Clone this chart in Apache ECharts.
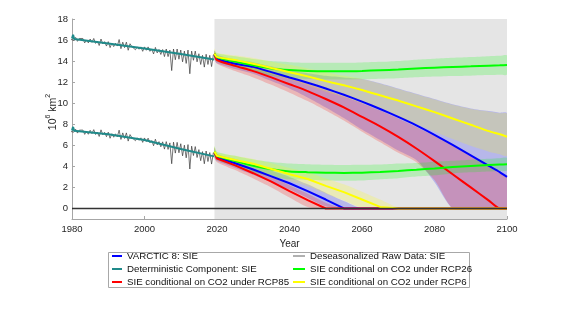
<!DOCTYPE html>
<html><head><meta charset="utf-8">
<script src="https://cdn.jsdelivr.net/npm/echarts@6/dist/echarts.min.js"></script>
<style>html,body{margin:0;padding:0;background:#fff}#c{width:561px;height:316px}</style>
</head><body><div id="c"></div>
<script>
// ---------- data ----------
const xTicks = [1980, 2000, 2020, 2040, 2060, 2080, 2100];
const yTicks = [0, 2, 4, 6, 8, 10, 12, 14, 16, 18];

const histYears = [];
for (let i = 0; i <= 80; i++) histYears.push(1979 + i * 0.5);

const rawUpper = [16.45, 16.08, 16.25, 15.98, 16.25, 15.88, 16.15, 15.98, 16.15, 15.73,
  16.0, 15.73, 16.1, 15.78, 16.15, 15.68, 15.9, 15.48, 16.1, 15.63,
  15.85, 15.43, 15.85, 15.28, 15.7, 15.38, 15.7, 15.43, 16.05, 15.18,
  15.8, 15.28, 15.8, 15.03, 15.65, 15.38, 15.5, 15.08, 15.35, 15.13,
  15.35, 14.93, 15.35, 15.03, 15.35, 14.93, 15.15, 14.68, 15.3, 14.78,
  15.1, 14.63, 15.1, 14.43, 15.15, 14.43, 15.05, 13.1, 15.15, 14.13,
  15.15, 14.18, 15.05, 13.93, 14.95, 13.78, 15.05, 12.8, 14.95, 14.08,
  14.95, 13.93, 14.7, 13.68, 14.55, 13.43, 14.65, 13.68, 14.55, 13.48, 14.6];
const rawLower = [7.70, 7.33, 7.51, 7.25, 7.53, 7.16, 7.44, 7.27, 7.45, 7.04,
  7.32, 7.05, 7.43, 7.11, 7.49, 7.03, 7.26, 6.84, 7.47, 7.00,
  7.23, 6.82, 7.25, 6.67, 7.10, 6.77, 7.09, 6.81, 7.44, 6.56,
  7.18, 6.65, 7.18, 6.40, 7.02, 6.74, 6.87, 6.44, 6.71, 6.48,
  6.71, 6.28, 6.70, 6.36, 6.68, 6.24, 6.45, 5.96, 6.58, 6.04,
  6.35, 5.86, 6.33, 5.64, 6.35, 5.61, 6.23, 4.25, 6.30, 5.26,
  6.28, 5.29, 6.15, 5.00, 6.01, 4.81, 6.07, 3.75, 5.92, 5.03,
  5.88, 4.84, 5.59, 4.54, 5.40, 4.25, 5.46, 4.46, 5.31, 4.22, 5.32];

const detYears = [1980, 1980.3, 1980.6, 1990, 2000, 2010, 2019.2];
const detUpper = [16.15, 16.5, 16.1, 15.68, 15.2, 14.67, 14.15];
const detLower = [7.4, 7.75, 7.38, 7.05, 6.5, 5.65, 4.95];

const projYears = [2019.3, 2020, 2025, 2030, 2035, 2040, 2045, 2050, 2055, 2060, 2065, 2070, 2075, 2080, 2085, 2090, 2095, 2098, 2100];

const varcticUpper   = [14.6, 14.2, 13.75, 13.45, 12.95, 12.45, 11.95, 11.4, 10.8, 10.15, 9.45, 8.7, 7.9, 7.0, 6.05, 5.05, 4.05, 3.45, 3.0];
const varcticUpperLo = [14.1, 13.8, 13.25, 12.8, 12.1, 11.4, 10.55, 9.6, 8.6, 7.5, 6.5, 5.5, 4.6, 2.5, 0, 0, 0, 0, 0];
const varcticUpperHi = [15.0, 14.6, 14.15, 13.9, 13.5, 13.1, 12.85, 12.6, 12.45, 12.3, 11.9, 11.4, 10.9, 10.4, 9.9, 9.5, 9.25, 9.1, 9.05];
const rcp85Upper     = [14.7, 14.1, 13.55, 13.05, 12.45, 11.8, 11.15, 10.4, 9.6, 8.7, 7.8, 6.8, 5.7, 4.5, 3.25, 2.0, 0.75, 0, 0];
const rcp85UpperLo   = [14.2, 13.75, 13.05, 12.45, 11.75, 11.0, 10.2, 9.3, 8.35, 7.3, 6.3, 5.3, 4.4, 2.7, 0, 0, 0, 0, 0];
const rcp85UpperHi   = [15.0, 14.45, 14.0, 13.55, 13.0, 12.4, 11.85, 11.25, 10.65, 10.0, 9.3, 8.55, 7.75, 6.9, 5.95, 4.95, 3.95, 3.35, 2.95];
const rcp26Upper     = [14.7, 14.35, 13.95, 13.6, 13.3, 13.15, 13.07, 13.04, 13.04, 13.07, 13.13, 13.2, 13.3, 13.38, 13.45, 13.5, 13.57, 13.6, 13.63];
const rcp26UpperLo   = [14.2, 13.95, 13.45, 13.0, 12.6, 12.4, 12.3, 12.25, 12.25, 12.27, 12.33, 12.38, 12.46, 12.53, 12.59, 12.62, 12.67, 12.7, 12.73];
const rcp26UpperHi   = [15.0, 14.75, 14.45, 14.2, 14.0, 13.9, 13.85, 13.84, 13.84, 13.87, 13.93, 14.02, 14.14, 14.23, 14.31, 14.38, 14.47, 14.5, 14.53];
const rcp6Upper      = [14.7, 14.4, 14.1, 13.75, 13.35, 12.95, 12.55, 12.1, 11.7, 11.25, 10.75, 10.25, 9.7, 9.15, 8.55, 7.95, 7.35, 7.05, 6.82];
const rcp6UpperLo    = [14.2, 14.0, 13.65, 13.2, 12.75, 12.25, 11.7, 11.1, 10.6, 10.0, 9.35, 8.7, 8.0, 7.3, 6.6, 5.95, 5.4, 5.15, 5.0];
const rcp6UpperHi    = [15.2, 14.8, 14.55, 14.3, 13.95, 13.65, 13.3, 12.95, 12.6, 12.3, 11.85, 11.35, 10.85, 10.35, 9.85, 9.45, 9.2, 9.05, 9.0];

const varcticLower   = [5.3, 4.85, 4.3, 3.7, 3.05, 2.4, 1.65, 0.85, 0, 0, 0, 0, 0, 0, 0, 0, 0, 0, 0];
const varcticLowerLo = [4.8, 4.5, 3.85, 3.2, 2.5, 1.8, 1.0, 0.2, 0, 0, 0, 0, 0, 0, 0, 0, 0, 0, 0];
const varcticLowerHi = [5.8, 5.2, 4.7, 4.15, 3.6, 3.0, 2.3, 1.5, 0.7, 0, 0, 0, 0, 0, 0, 0, 0, 0, 0];
const rcp85Lower     = [5.3, 4.75, 4.1, 3.35, 2.55, 1.65, 0.8, 0, 0, 0, 0, 0, 0, 0, 0, 0, 0, 0, 0];
const rcp85LowerLo   = [4.8, 4.4, 3.65, 2.85, 2.0, 1.05, 0.15, 0, 0, 0, 0, 0, 0, 0, 0, 0, 0, 0, 0];
const rcp85LowerHi   = [5.8, 5.1, 4.5, 3.8, 3.05, 2.2, 1.4, 0.55, 0, 0, 0, 0, 0, 0, 0, 0, 0, 0, 0];
const rcp26Lower     = [5.4, 5.0, 4.5, 4.05, 3.72, 3.52, 3.45, 3.4, 3.38, 3.4, 3.47, 3.57, 3.68, 3.8, 3.93, 4.03, 4.12, 4.17, 4.2];
const rcp26LowerLo   = [4.9, 4.6, 4.0, 3.45, 3.02, 2.77, 2.7, 2.65, 2.63, 2.65, 2.77, 2.87, 3.03, 3.15, 3.33, 3.43, 3.52, 3.57, 3.6];
const rcp26LowerHi   = [5.9, 5.4, 5.0, 4.65, 4.42, 4.27, 4.2, 4.15, 4.13, 4.15, 4.17, 4.27, 4.33, 4.45, 4.53, 4.63, 4.72, 4.77, 4.8];
const rcp6Lower      = [5.4, 5.0, 4.6, 4.25, 3.75, 3.25, 2.8, 2.15, 1.55, 0.85, 0.15, 0, 0, 0, 0, 0, 0, 0, 0];
const rcp6LowerLo    = [4.9, 4.65, 4.2, 3.75, 3.2, 2.6, 2.1, 1.4, 0.75, 0.05, 0, 0, 0, 0, 0, 0, 0, 0, 0];
const rcp6LowerHi    = [5.9, 5.35, 5.0, 4.7, 4.3, 3.85, 3.45, 2.85, 2.3, 1.6, 0.85, 0.1, 0, 0, 0, 0, 0, 0, 0];

const zeroLineX = [1980, 2100];
const zeroLineY = [0, 0];
const projectionStart = 2019.3;
const projectionEnd = 2100;

// ---------- names / styles ----------
const N_VAR = 'VARCTIC 8: SIE';
const N_DET = 'Deterministic Component: SIE';
const N_85 = 'SIE conditional on CO2 under RCP85';
const N_RAW = 'Deseasonalized Raw Data: SIE';
const N_26 = 'SIE conditional on CO2 under RCP26';
const N_6 = 'SIE conditional on CO2 under RCP6';
const C_BLUE = '#0000ff', C_RED = '#ff0000', C_GREEN = '#00ff00', C_YEL = '#ffff00', C_TEAL = '#1f8a8a';
const FONT = '"Liberation Sans", Arial, Helvetica, sans-serif';

const pairs = (xs, ys) => xs.map((x, i) => [x, ys[i]]);

const series = [];
// grey projection background
series.push({
  type: 'line', data: [], silent: true, z: 1, symbol: 'none',
  markArea: { silent: true, itemStyle: { color: '#e5e5e5' },
    data: [[{ xAxis: projectionStart, yAxis: -1 }, { xAxis: projectionEnd, yAxis: 18 }]] }
});

// uncertainty bands as polygons through the axes' scales
const bands = [
  [varcticUpperLo, varcticUpperHi, C_BLUE],
  [varcticLowerLo, varcticLowerHi, C_BLUE],
  [rcp85UpperLo, rcp85UpperHi, C_RED],
  [rcp85LowerLo, rcp85LowerHi, C_RED],
  [rcp26UpperLo, rcp26UpperHi, C_GREEN],
  [rcp26LowerLo, rcp26LowerHi, C_GREEN],
  [rcp6UpperLo, rcp6UpperHi, C_YEL],
  [rcp6LowerLo, rcp6LowerHi, C_YEL]
];
bands.forEach(([lo, hi, col]) => {
  series.push({
    type: 'custom', silent: true, z: 2, clip: true,
    data: [[projYears[0], lo[0]]],
    renderItem: (params, api) => {
      const pts = [];
      projYears.forEach((x, i) => pts.push(api.coord([x, lo[i]])));
      for (let i = projYears.length - 1; i >= 0; i--) pts.push(api.coord([projYears[i], hi[i]]));
      return { type: 'polygon', shape: { points: pts, smooth: 0.25 }, style: { fill: col, opacity: 0.2 } };
    }
  });
});

const line = (name, xs, ys, color, width, smooth) => ({
  name, type: 'line', data: pairs(xs, ys), symbol: 'none', silent: true, z: 3,
  smooth: smooth || false,
  lineStyle: { color, width }, itemStyle: { color }
});
series.push(line(N_RAW, histYears, rawUpper, '#3a3a3a', 0.7));
series.push(line(N_RAW, histYears, rawLower, '#3a3a3a', 0.7));
series.push(line(N_DET, detYears, detUpper, C_TEAL, 2));
series.push(line(N_DET, detYears, detLower, C_TEAL, 2));
series.push(line(N_VAR, projYears, varcticUpper, C_BLUE, 2, 0.2));
series.push(line(N_VAR, projYears, varcticLower, C_BLUE, 2));
series.push(line(N_85, projYears, rcp85Upper, C_RED, 2, 0.2));
series.push(line(N_85, projYears, rcp85Lower, C_RED, 2));
series.push(line(N_26, projYears, rcp26Upper, C_GREEN, 2, 0.2));
series.push(line(N_26, projYears, rcp26Lower, C_GREEN, 2, 0.2));
series.push(line(N_6, projYears, rcp6Upper, C_YEL, 2, 0.2));
series.push(line(N_6, projYears, rcp6Lower, C_YEL, 2));
const zl = line('zero', zeroLineX, zeroLineY, '#333333', 1.4);
zl.z = 4;
series.push(zl);

const legendCommon = {
  orient: 'vertical', top: 251, padding: 0, itemGap: 3, itemHeight: 10,
  selectedMode: false, itemStyle: { opacity: 0, borderWidth: 0 },
  textStyle: { fontSize: 9.7, color: '#111', fontFamily: FONT }
};

const chart = echarts.init(document.getElementById('c'), null, { renderer: 'canvas' });
chart.setOption({
  animation: false,
  backgroundColor: '#ffffff',
  textStyle: { fontFamily: FONT },
  grid: { left: 72, right: 54, top: 19, bottom: 97 },
  xAxis: {
    type: 'value', min: 1980, max: 2100, interval: 20,
    name: 'Year', nameLocation: 'middle', nameGap: 17,
    nameTextStyle: { fontSize: 10, color: '#262626', fontFamily: FONT },
    axisLine: { onZero: false, lineStyle: { color: '#a6a6a6', width: 1 } },
    axisTick: { inside: true, length: 3, lineStyle: { color: '#a6a6a6' } },
    axisLabel: { fontSize: 9.5, color: '#262626', margin: 5, fontFamily: FONT,
      customValues: xTicks, formatter: v => String(v) },
    splitLine: { show: false }
  },
  yAxis: {
    type: 'value', min: -1, max: 18, interval: 1,
    axisLine: { show: true, onZero: false, lineStyle: { color: '#a6a6a6', width: 1 } },
    axisTick: { show: true, inside: true, length: 3, customValues: yTicks, lineStyle: { color: '#a6a6a6' } },
    axisLabel: { fontSize: 9.5, color: '#262626', margin: 4, fontFamily: FONT, customValues: yTicks,
      formatter: v => String(v) },
    splitLine: { show: false }
  },
  legend: [
    Object.assign({}, legendCommon, { left: 111, itemWidth: 10, data: [N_VAR, N_DET, N_85] }),
    Object.assign({}, legendCommon, { left: 292, itemWidth: 12,
      data: [{ name: N_RAW, lineStyle: { width: 0.8, color: '#3a3a3a' } }, N_26, N_6] })
  ],
  graphic: [
    { type: 'rect', left: 108, top: 252, z: 0, silent: true,
      shape: { width: 361, height: 35 },
      style: { fill: '#ffffff', stroke: '#a8a8a8', lineWidth: 1 } },
    { type: 'text', x: 52, y: 112, rotation: Math.PI / 2, silent: true,
      style: {
        text: '{a|10}{s|6}{a| km}{s|2}',
        align: 'center', verticalAlign: 'middle',
        rich: {
          a: { fontSize: 10.5, fill: '#262626', fontFamily: FONT, lineHeight: 14, verticalAlign: 'bottom' },
          s: { fontSize: 7, fill: '#262626', fontFamily: FONT, lineHeight: 14, verticalAlign: 'top' }
        }
      } }
  ],
  series
});
</script>
</body></html>
